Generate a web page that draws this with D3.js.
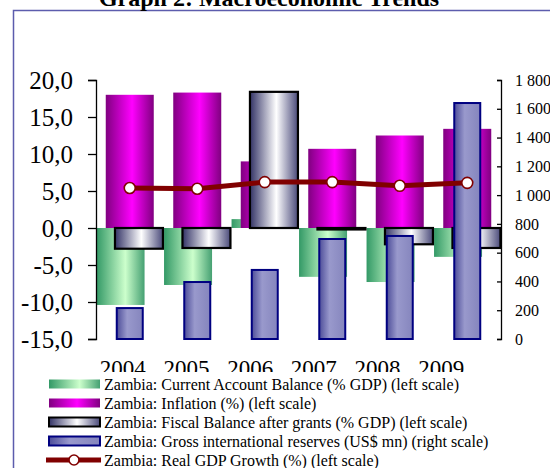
<!DOCTYPE html>
<html>
<head>
<meta charset="utf-8">
<script src="https://cdn.jsdelivr.net/npm/d3@7"></script>
<style>
  body { margin: 0; background: #fff; }
  text { font-family: "Liberation Serif", "Times New Roman", serif; fill: #000; }
</style>
</head>
<body>
<svg width="550" height="468"></svg>
<script>

var years = ["2004", "2005", "2006", "2007", "2008", "2009"];
var currentAccount = [-10.4, -7.7, 1.2, -6.6, -7.3, -3.9];
var inflation = [18.0, 18.3, 9.0, 10.7, 12.5, 13.4];
var fiscalBalance = [-2.8, -2.7, 18.4, -0.2, -2.2, -2.7];
var reserves = [215, 396, 480, 695, 716, 1640];
var gdpGrowth = [5.4, 5.3, 6.2, 6.2, 5.7, 6.1];
var leftTicks = [-15, -10, -5, 0, 5, 10, 15, 20];
var rightTicks = [0, 200, 400, 600, 800, 1000, 1200, 1400, 1600, 1800];
var legendLabels = [
  "Zambia: Current Account Balance (% GDP) (left scale)",
  "Zambia: Inflation (%) (left scale)",
  "Zambia: Fiscal Balance after grants (% GDP) (left scale)",
  "Zambia: Gross international reserves (US$ mn) (right scale)",
  "Zambia: Real GDP Growth (%) (left scale)"
];

var svg = d3.select("svg");
var loc = d3.formatLocale({decimal: ",", thousands: "\u00a0", grouping: [3], currency: ["", ""], minus: "-"});

var x = d3.scaleBand().domain(years).range([96, 501]);
var xLabel = d3.scaleBand().domain(years).range([91, 473]);
var inner = d3.scalePoint().domain(["ca", "infl", "fiscal"]).range([-9.2, 9.2]);
var yL = d3.scaleLinear().domain([-15, 20]).range([339, 80]);
var yR = d3.scaleLinear().domain([0, 1800]).range([339, 80]);
var barW = 48, resW = 26;

var defs = svg.append("defs");
function grad(id, stops) {
  var g = defs.append("linearGradient").attr("id", id)
    .attr("x1", 0).attr("x2", 1).attr("y1", 0).attr("y2", 0);
  stops.forEach(function(s) {
    g.append("stop").attr("offset", s[0]).attr("stop-color", s[1]);
  });
}
grad("gCA", [[0, "#339966"], [0.6, "#ccffcc"], [1, "#45a072"]]);
grad("gInf", [[0, "#800080"], [0.55, "#ff00ff"], [1, "#800080"]]);
grad("gFis", [[0, "#333366"], [0.55, "#ffffff"], [1, "#4a4a7a"]]);
grad("gRes", [[0, "#4d4d99"], [0.4, "#9999cc"], [1, "#8585bd"]]);

// frame
svg.append("rect")
  .attr("x", 13.5).attr("y", 10.5)
  .attr("width", 600).attr("height", 500)
  .attr("fill", "none").attr("stroke", "#5c5cad").attr("stroke-width", 1.5);

svg.append("text")
  .attr("x", 269).attr("y", 6)
  .attr("text-anchor", "middle")
  .style("font-size", "24px").style("font-weight", "bold")
  .text("Graph 2: Macroeconomic Trends");

function leftBars(vals, key, fill, stroke, sw) {
  svg.append("g").selectAll("rect")
    .data(vals)
    .enter().append("rect")
    .attr("x", function(d, i) { return x(years[i]) + x.bandwidth() / 2 + inner(key) - barW / 2; })
    .attr("y", function(d) { return yL(Math.max(0, d)); })
    .attr("width", barW)
    .attr("height", function(d) { return Math.abs(yL(d) - yL(0)); })
    .attr("fill", fill)
    .attr("stroke", stroke)
    .attr("stroke-width", sw);
}

leftBars(currentAccount, "ca", "url(#gCA)", "none", 0);
leftBars(inflation, "infl", "url(#gInf)", "none", 0);
leftBars(fiscalBalance, "fiscal", "url(#gFis)", "#000", 2.2);

svg.append("g").selectAll("rect")
  .data(reserves)
  .enter().append("rect")
  .attr("x", function(d, i) { return x(years[i]) + x.bandwidth() / 2 - resW / 2; })
  .attr("y", function(d) { return yR(d); })
  .attr("width", resW)
  .attr("height", function(d) { return yR(0) - yR(d); })
  .attr("fill", "url(#gRes)")
  .attr("stroke", "#000080")
  .attr("stroke-width", 2);

var line = d3.line()
  .x(function(d, i) { return x(years[i]) + x.bandwidth() / 2; })
  .y(function(d) { return yL(d); });

svg.append("path")
  .datum(gdpGrowth)
  .attr("d", line)
  .attr("fill", "none")
  .attr("stroke", "#800000")
  .attr("stroke-width", 5);

svg.append("g").selectAll("circle")
  .data(gdpGrowth)
  .enter().append("circle")
  .attr("cx", function(d, i) { return x(years[i]) + x.bandwidth() / 2; })
  .attr("cy", function(d) { return yL(d); })
  .attr("r", 5.5)
  .attr("fill", "#fff")
  .attr("stroke", "#800000")
  .attr("stroke-width", 1.6);

// axes
var axL = svg.append("g")
  .attr("transform", "translate(96,0)")
  .call(d3.axisLeft(yL).tickValues(leftTicks).tickSize(8).tickPadding(15).tickFormat(loc.format(".1f")));
axL.selectAll("text").style("font-size", "25px").attr("font-family", null);

var axR = svg.append("g")
  .attr("transform", "translate(501,0)")
  .call(d3.axisRight(yR).tickValues(rightTicks).tickSize(-4).tickPadding(14).tickFormat(loc.format(",")));
axR.selectAll("text").style("font-size", "16px").attr("font-family", null);

[axL, axR].forEach(function(a) {
  a.select(".domain").attr("stroke-width", 1.3);
  a.selectAll(".tick line").attr("stroke-width", 1.3);
});

svg.append("g").selectAll("text")
  .data(years)
  .enter().append("text")
  .attr("x", function(d) { return xLabel(d) + xLabel.bandwidth() / 2; })
  .attr("y", 376)
  .attr("text-anchor", "middle")
  .style("font-size", "23px")
  .text(function(d) { return d; });

// legend
var legend = svg.append("g");
legend.append("rect")
  .attr("x", 40).attr("y", 372)
  .attr("width", 460).attr("height", 96)
  .attr("fill", "#fff");

var row = legend.selectAll(".row")
  .data(legendLabels)
  .enter().append("g")
  .attr("class", "row")
  .attr("transform", function(d, i) { return "translate(0," + (384 + i * 19) + ")"; });

var swFill = ["url(#gCA)", "url(#gInf)", "url(#gFis)", "url(#gRes)"];
var swStroke = ["none", "none", "#000", "#000080"];
row.filter(function(d, i) { return i < 4; })
  .append("rect")
  .attr("x", 49).attr("y", -4.5)
  .attr("width", 51).attr("height", 9)
  .attr("fill", function(d, i) { return swFill[i]; })
  .attr("stroke", function(d, i) { return swStroke[i]; })
  .attr("stroke-width", 2);

var lastRow = row.filter(function(d, i) { return i == 4; });
lastRow.append("line")
  .attr("x1", 46).attr("x2", 101)
  .attr("stroke", "#800000").attr("stroke-width", 5);
lastRow.append("circle")
  .attr("cx", 74).attr("r", 5)
  .attr("fill", "#fff").attr("stroke", "#800000").attr("stroke-width", 1.6);

row.append("text")
  .attr("x", 104).attr("dy", "0.35em")
  .style("font-size", "16px")
  .text(function(d) { return d; });

</script>
</body>
</html>
